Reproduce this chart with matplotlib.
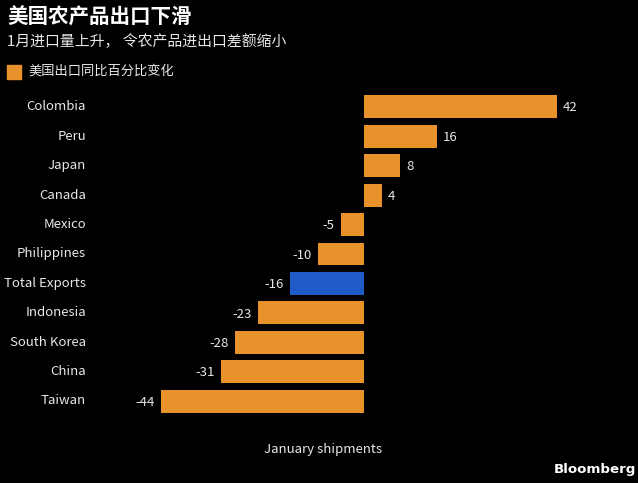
import matplotlib.pyplot as plt

plt.rcParams['font.family'] = ['Noto Sans CJK SC', 'DejaVu Sans']

countries = ['Colombia', 'Peru', 'Japan', 'Canada', 'Mexico', 'Philippines',
             'Total Exports', 'Indonesia', 'South Korea', 'China', 'Taiwan']
changes = [42, 16, 8, 4, -5, -10, -16, -23, -28, -31, -44]

orange = '#E8922B'
blue = '#1F5BC6'
txt = '#E8E8E8'
colors = [blue if c == 'Total Exports' else orange for c in countries]

fig = plt.figure(figsize=(6.38, 4.83), dpi=100, facecolor='black')
ax = fig.add_axes([161 / 638, 1 - 416 / 483, 396 / 638, 324 / 483])
ax.set_facecolor('black')

pos = list(range(len(countries)))
ax.barh(pos, changes, height=0.78, color=colors)
ax.set_ylim(len(countries) - 0.5, -0.5)
ax.set_xlim(-44, 42)

# value labels next to bar ends
for y, v in zip(pos, changes):
    if v >= 0:
        ax.text(v + 1.3, y + 0.04, str(v), color=txt, fontsize=9.5, va='center', ha='left')
    else:
        ax.text(v - 1.3, y + 0.04, str(v), color=txt, fontsize=9.5, va='center', ha='right')

for y, name in zip(pos, countries):
    fig.text(86 / 638, 1 - (107 + y * 29.4) / 483, name, color=txt, fontsize=9.5,
             ha='right', va='center')

for s in ax.spines.values():
    s.set_visible(False)
ax.set_xticks([])
ax.set_yticks([])

fig.text(7 / 638, 1 - 17 / 483, '美国农产品出口下滑', color='white', fontsize=14.8,
         fontweight='bold', ha='left', va='center')
fig.text(7 / 638, 1 - 42 / 483, '1月进口量上升， 令农产品进出口差额缩小', color=txt,
         fontsize=10.7, ha='left', va='center')
fig.patches.append(plt.Rectangle((7 / 638, 1 - 79 / 483), 14 / 638, 14 / 483,
                                 color=orange, transform=fig.transFigure, figure=fig))
fig.text(28 / 638, 1 - 71 / 483, '美国出口同比百分比变化', color=txt, fontsize=9.5,
         ha='left', va='center')
fig.text(323 / 638, 1 - 449 / 483, 'January shipments', color=txt, fontsize=9.5,
         ha='center', va='center')
fig.text(636 / 638, 1 - 470 / 483, 'Bloomberg', color='white', fontsize=9.6,
         fontweight='bold', ha='right', va='center', family='DejaVu Sans')

fig.savefig('out.png', dpi=100, facecolor='black')
